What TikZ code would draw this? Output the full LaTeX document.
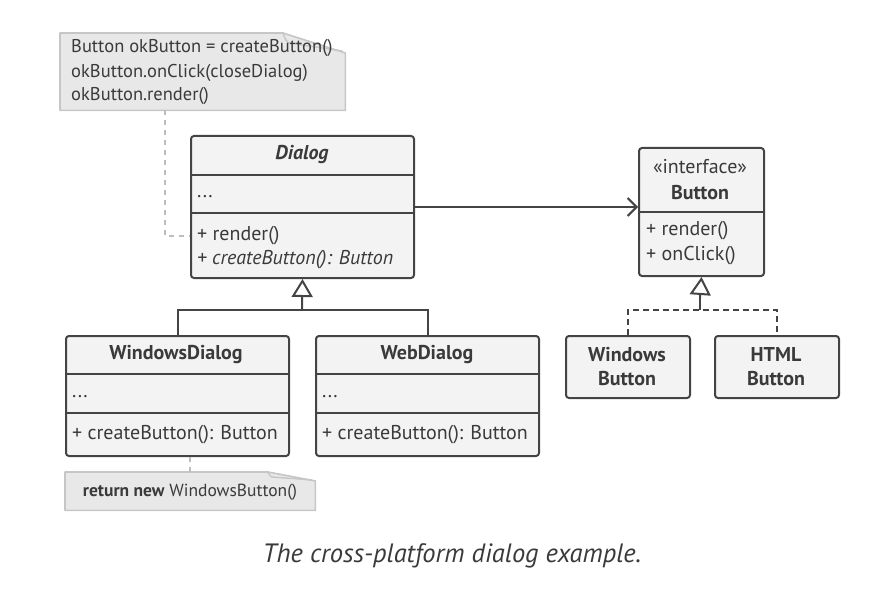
\documentclass[tikz,border=0pt]{standalone}
\usepackage{fontspec}
\setmainfont{PT Sans}
\usetikzlibrary{arrows.meta,calc}

\definecolor{linec}{HTML}{444444}
\definecolor{textc}{HTML}{3A3A3A}
\definecolor{boxfill}{HTML}{F3F3F3}
\definecolor{notefill}{HTML}{E8E8E8}
\definecolor{noteline}{HTML}{C6C6C6}
\definecolor{notelink}{HTML}{BDBDBD}

\newcommand{\fs}{\fontsize{20}{24}\selectfont}
\newcommand{\fsnote}{\fontsize{18.5}{24}\selectfont}
\newcommand{\fsn}{\fontsize{17.5}{24}\selectfont}

\tikzset{
  cls/.style={draw=linec, line width=2pt, fill=boxfill, rounded corners=3pt,
    inner sep=0pt, anchor=north west},
  sepline/.style={draw=linec, line width=2pt},
  txt/.style={anchor=west, inner sep=0pt, text=textc, font=\fs},
  notetxt/.style={anchor=west, inner sep=0pt, text=textc, font=\fsnote},
  title/.style={inner sep=0pt, text=textc, font=\fs\bfseries, align=center},
  notebody/.style={fill=notefill, draw=noteline, line width=1.6pt, line join=round},
  notebox/.style={inner sep=0pt, anchor=north west},
  notelinkstyle/.style={draw=notelink, line width=1.6pt, dash pattern=on 5pt off 5pt},
  assoc/.style={draw=linec, line width=2pt, -{Straight Barb[length=9pt,width=18pt,line width=2pt]}},
  inherit/.style={draw=linec, line width=2pt, -{Triangle[open,length=18pt,width=21pt,line width=2pt]}},
  realize/.style={draw=linec, line width=2pt, dash pattern=on 6pt off 4pt},
  branch/.style={draw=linec, line width=2pt},
}

\begin{document}
\begin{tikzpicture}[x=1pt, y=-1pt]
\useasboundingbox (0,0) rectangle (882,612);

% ---------- note above Dialog ----------
\node[notebox, minimum width=285pt, minimum height=77pt] (n1) at (60,33) {};
\path[notebody] (n1.south west) -- (n1.north west) -- ($(n1.north west)+(223,0)$)
  -- ($(n1.north east)+(0,20)$) -- (n1.south east) -- cycle;
\draw[noteline, line width=1.4pt] ($(n1.north west)+(223,0)$)
  .. controls ($(n1.north west)+(226,8)$) .. ($(n1.north west)+(229,10)$)
  -- ($(n1.north east)+(-3,18)$);
\node[notetxt] (n1a) at (71,48) {Button okButton = createButton()};
\node[notetxt] (n1b) at (71,73) {okButton.onClick(closeDialog)};
\node[notetxt] (n1c) at (71,96) {okButton.render()};

% ---------- Dialog ----------
\node[cls, minimum width=223pt, minimum height=142pt] (dlg) at (190,135) {};
\draw[sepline] ($(dlg.north west)+(0,40)$) -- ($(dlg.north east)+(0,40)$);
\draw[sepline] ($(dlg.north west)+(0,78)$) -- ($(dlg.north east)+(0,78)$);
\node[title, font=\fs\bfseries\itshape] (dlgt) at (302,155) {Dialog};
\node[txt] (dlga) at (197,197) {...};
\node[txt] (dlgr) at (197,236) {+ render()};
\node[txt, font=\fs\itshape] (dlgc) at (197,260) {+ createButton(): Button};

% ---------- Button interface ----------
\node[cls, minimum width=125pt, minimum height=128pt] (btn) at (638,147) {};
\draw[sepline] ($(btn.north west)+(0,65)$) -- ($(btn.north east)+(0,65)$);
\node[title, font=\fs] (btns) at (700,167) {«interface»};
\node[title] (btnt) at (700,193) {Button};
\node[txt] (btnr) at (646,231) {+ render()};
\node[txt] (btno) at (646,256) {+ onClick()};

% ---------- WindowsDialog ----------
\node[cls, minimum width=223pt, minimum height=120pt] (wd) at (65,335) {};
\draw[sepline] ($(wd.north west)+(0,39)$) -- ($(wd.north east)+(0,39)$);
\draw[sepline] ($(wd.north west)+(0,78)$) -- ($(wd.north east)+(0,78)$);
\node[title] (wdt) at (176,355) {WindowsDialog};
\node[txt] (wda) at (72,397) {...};
\node[txt] (wdc) at (72,435) {+ createButton(): Button};

% ---------- WebDialog ----------
\node[cls, minimum width=223pt, minimum height=120pt] (web) at (315,335) {};
\draw[sepline] ($(web.north west)+(0,39)$) -- ($(web.north east)+(0,39)$);
\draw[sepline] ($(web.north west)+(0,78)$) -- ($(web.north east)+(0,78)$);
\node[title] (webt) at (427,355) {WebDialog};
\node[txt] (weba) at (322,397) {...};
\node[txt] (webc) at (322,435) {+ createButton(): Button};

% ---------- concrete buttons ----------
\node[cls, minimum width=124pt, minimum height=62pt] (wb) at (565,335) {};
\node[title] (wbt) at (627,367) {Windows\\Button};
\node[cls, minimum width=124pt, minimum height=62pt] (hb) at (714,335) {};
\node[title] (hbt) at (776,367) {HTML\\Button};

% ---------- note below WindowsDialog ----------
\node[notebox, minimum width=250pt, minimum height=38pt] (n2) at (65,472) {};
\path[notebody] (n2.south west) -- (n2.north west) -- ($(n2.north west)+(203,0)$)
  -- ($(n2.north east)+(0,9)$) -- (n2.south east) -- cycle;
\draw[noteline, line width=1.4pt] ($(n2.north west)+(203,0)$)
  .. controls ($(n2.north west)+(205,4)$) .. ($(n2.north west)+(207,5)$)
  -- ($(n2.north east)+(-3,8)$);
\node[inner sep=0pt, text=textc, font=\fsn] (n2t) at (190,492)
  {\textbf{return new} WindowsButton()};

% ---------- connectors ----------
\coordinate (n1foot) at ($(n1.south west)+(105,0)$);
\draw[notelinkstyle] (n1foot) |- (dlg.west |- dlgr.west);
\draw[notelinkstyle] (wd.south -| n2.north) -- (n2.north);

\draw[assoc] (dlg.east) -- (dlg.east -| btn.west);

\coordinate (j1) at (302,310);
\draw[branch] (wd.north) |- (j1) -| (web.north);
\draw[inherit] (j1) -- (dlg.south);

\coordinate (j2) at (700,310);
\draw[realize] (wb.north) |- (j2) -| (hb.north);
\draw[realize, dash pattern=] (j2) -- ++(0,-12);
\draw[inherit] ($(j2)+(0,-12)$) -- (btn.south);

% ---------- caption ----------
\node[inner sep=0pt, text=textc, font=\fontsize{26.5}{30}\selectfont\itshape] (cap) at (452,556)
  {The cross-platform dialog example.};
\end{tikzpicture}
\end{document}
